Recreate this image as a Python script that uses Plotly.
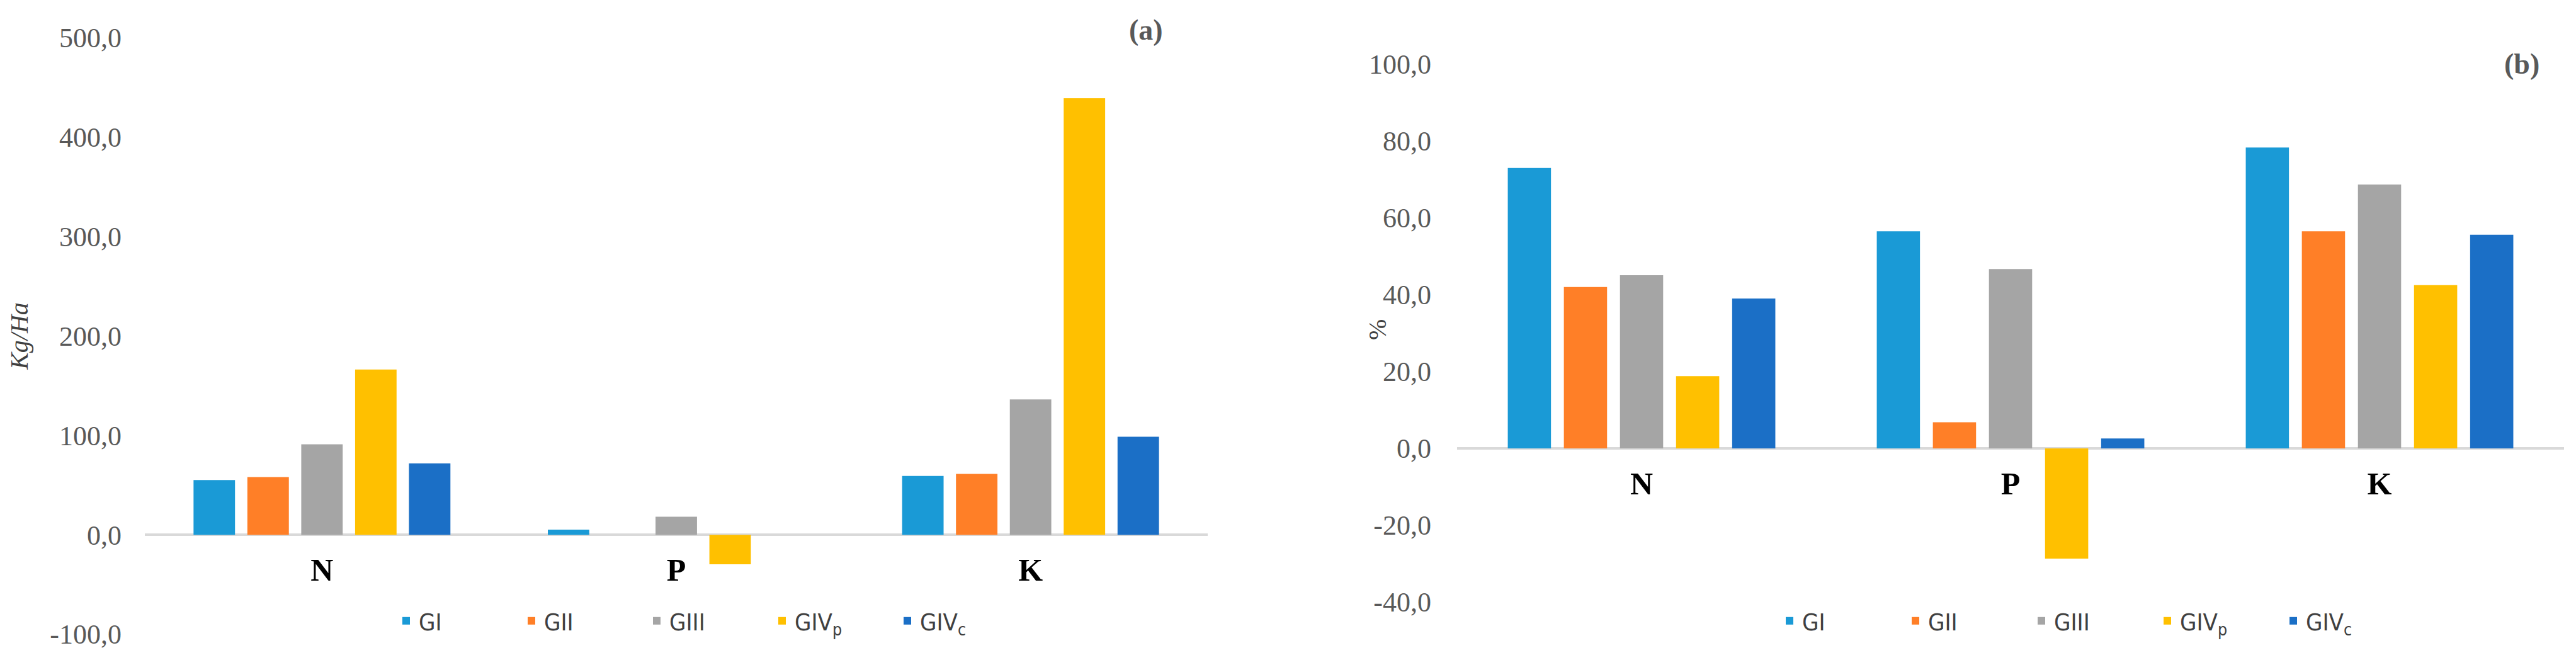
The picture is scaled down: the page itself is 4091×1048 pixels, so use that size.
import plotly.graph_objects as go

nutrients = ["N", "P", "K"]
groups = ["GI", "GII", "GIII", "GIV<sub>p</sub>", "GIV<sub>c</sub>"]
colors = ["#1A9AD6", "#FF7F27", "#A5A5A5", "#FFC000", "#1B6FC6"]

# panel (a) Kg/Ha
a_GI = [55.0, 5.1, 59.2]
a_GII = [58.0, 0.0, 61.3]
a_GIII = [91.0, 18.2, 136.2]
a_GIVp = [166.2, -29.6, 439.1]
a_GIVc = [71.9, 0.0, 98.6]

# panel (b) %
b_GI = [73.0, 56.5, 78.3]
b_GII = [42.0, 6.8, 56.5]
b_GIII = [45.1, 46.7, 68.7]
b_GIVp = [18.8, -28.7, 42.5]
b_GIVc = [39.0, 2.6, 55.6]

a_ticks = [-100, 0, 100, 200, 300, 400, 500]
a_ticktext = ["-100,0", "0,0", "100,0", "200,0", "300,0", "400,0", "500,0"]
b_ticks = [-40, -20, 0, 20, 40, 60, 80, 100]
b_ticktext = ["-40,0", "-20,0", "0,0", "20,0", "40,0", "60,0", "80,0", "100,0"]

W, H = 4091, 1048
OFF = 8  # page body margin
fig = go.Figure()

a_series = [a_GI, a_GII, a_GIII, a_GIVp, a_GIVc]
b_series = [b_GI, b_GII, b_GIII, b_GIVp, b_GIVc]
for name, col, vals in zip(groups, colors, a_series):
    fig.add_trace(go.Bar(x=nutrients, y=vals, name=name, marker_color=col,
                         marker_line_width=0, xaxis="x", yaxis="y", legend="legend"))
for name, col, vals in zip(groups, colors, b_series):
    fig.add_trace(go.Bar(x=nutrients, y=vals, name=name, marker_color=col,
                         marker_line_width=0, xaxis="x2", yaxis="y2", legend="legend2"))

tickfont = dict(family="Liberation Serif", size=44, color="#595959")
catfont = dict(family="Liberation Serif", size=50, color="#000000")
legfont = dict(family="Liberation Sans Narrow, DejaVu Sans Condensed, Roboto Condensed, Liberation Sans",
               size=38, color="#404040")

def py(px):
    return (H - (px - OFF)) / H

def px_(x):
    return (x - OFF) / W

fig.update_layout(
    width=W, height=H,
    paper_bgcolor="white", plot_bgcolor="white",
    margin=dict(l=0, r=0, t=0, b=0, pad=0, autoexpand=False),
    barmode="group", bargap=0.24, bargroupgap=0.23,
    showlegend=True,
    xaxis=dict(domain=[px_(230), px_(1918)], anchor="free", position=py(849),
               showgrid=False, showline=False, zeroline=False, ticks="",
               tickfont=catfont, ticklabelstandoff=22, automargin=False,
               tickvals=nutrients, ticktext=["<b>%s</b>" % n for n in nutrients]),
    yaxis=dict(domain=[py(1007), py(60)], range=[-100, 500], automargin=False,
               tickvals=a_ticks, ticktext=a_ticktext, tickfont=tickfont,
               showgrid=False, showline=False, zeroline=True,
               zerolinecolor="#D9D9D9", zerolinewidth=4,
               ticklabelstandoff=36,
               title=dict(text="<i>Kg/Ha</i>", font=dict(family="Liberation Serif", size=40, color="#404040"),
                          standoff=30)),
    xaxis2=dict(domain=[px_(2314), px_(4072)], anchor="free", position=py(712),
                showgrid=False, showline=False, zeroline=False, ticks="",
                tickfont=catfont, ticklabelstandoff=22, automargin=False,
                tickvals=nutrients, ticktext=["<b>%s</b>" % n for n in nutrients]),
    yaxis2=dict(domain=[py(956), py(102)], range=[-40, 100], anchor="x2", automargin=False,
                tickvals=b_ticks, ticktext=b_ticktext, tickfont=tickfont,
                showgrid=False, showline=False, zeroline=True,
                zerolinecolor="#D9D9D9", zerolinewidth=4,
                ticklabelstandoff=40),
    legend=dict(orientation="h", x=px_(625), y=py(986), xanchor="left", yanchor="middle",
                font=legfont, entrywidth=154, entrywidthmode="pixels",
                itemwidth=30, bgcolor="rgba(0,0,0,0)", traceorder="normal"),
    legend2=dict(orientation="h", x=px_(2822), y=py(986), xanchor="left", yanchor="middle",
                 font=legfont, entrywidth=155, entrywidthmode="pixels",
                 itemwidth=30, bgcolor="rgba(0,0,0,0)", traceorder="normal"),
    annotations=[
        dict(text="<b>(a)</b>", x=px_(1820), y=py(48), xref="paper", yref="paper",
             xanchor="center", yanchor="middle",
             showarrow=False, font=dict(family="Liberation Serif", size=46, color="#595959")),
        dict(text="<b>(b)</b>", x=px_(4005), y=py(102), xref="paper", yref="paper",
             xanchor="center", yanchor="middle",
             showarrow=False, font=dict(family="Liberation Serif", size=46, color="#595959")),
        dict(text="%", x=px_(2187), y=py(524), xref="paper", yref="paper", textangle=-90,
             xanchor="center", yanchor="middle",
             showarrow=False, font=dict(family="Liberation Serif", size=40, color="#404040")),
    ],
)

fig.write_html("out.html")
